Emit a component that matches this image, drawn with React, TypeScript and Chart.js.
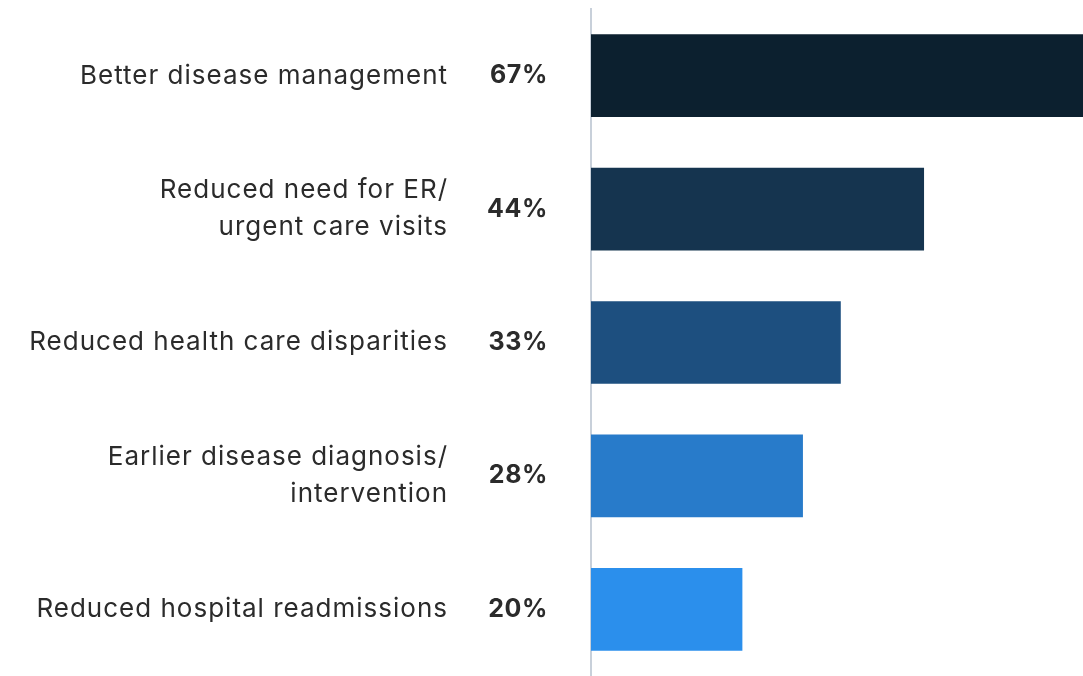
import React, { useEffect, useRef } from "react";
import { Chart, registerables } from "chart.js";

Chart.register(...registerables);

const categories: (string | string[])[] = [
  "Better disease management",
  ["Reduced need for ER/", "urgent care visits"],
  "Reduced health care disparities",
  ["Earlier disease diagnosis/", "intervention"],
  "Reduced hospital readmissions",
];
const values = [67, 44, 33, 28, 20];
const barColors = ["#0c202f", "#15344f", "#1d4f7f", "#287bca", "#2b8fec"];
const valueLabels = values.map((v) => `${v}%`);

const FONT = "Inter, 'Noto Sans', sans-serif";

const spacingPlugin = {
  id: "letterSpacing",
  beforeUpdate(chart: any) {
    chart.ctx.letterSpacing = "1px";
  },
  beforeDraw(chart: any) {
    chart.ctx.letterSpacing = "1px";
  },
};

const percentPlugin = {
  id: "percentLabels",
  afterDraw(chart: any) {
    const { ctx, chartArea, scales } = chart;
    ctx.save();
    ctx.letterSpacing = "0.6px";
    ctx.font = `bold 25px ${FONT}`;
    ctx.fillStyle = "#2b2b2b";
    ctx.textAlign = "right";
    ctx.textBaseline = "middle";
    valueLabels.forEach((t, i) => {
      ctx.fillText(t, chartArea.left - 43, scales.y.getPixelForValue(i));
    });
    ctx.restore();
  },
};

export default function App() {
  const ref = useRef<HTMLCanvasElement>(null);
  useEffect(() => {
    if (!ref.current) return;
    const chart = new Chart(ref.current, {
      type: "bar",
      data: {
        labels: categories,
        datasets: [
          {
            data: values,
            backgroundColor: barColors,
            barPercentage: 0.62,
            categoryPercentage: 1,
          },
        ],
      },
      options: {
        indexAxis: "y",
        animation: false,
        responsive: false,
        maintainAspectRatio: false,
        layout: { padding: { top: 9, bottom: 0, right: 0, left: 0 } },
        plugins: { legend: { display: false }, tooltip: { enabled: false } },
        scales: {
          x: { display: false, min: 0, max: 65 },
          y: {
            afterFit: (scale: any) => {
              scale.width = 591;
              scale.paddingTop = 0;
              scale.paddingBottom = 0;
            },
            grid: { display: false, drawTicks: false },
            border: { display: true, color: "#c8d0da", width: 2 },
            ticks: {
              padding: 143,
              color: "#2b2b2b",
              font: { family: FONT, size: 26, lineHeight: 1.42 },
            },
          },
        },
      },
      plugins: [spacingPlugin, percentPlugin],
    });
    return () => chart.destroy();
  }, []);
  return (
    <div style={{ position: "fixed", left: 0, top: 0, width: 1083, height: 676 }}>
      <canvas ref={ref} width={1083} height={676} />
    </div>
  );
}
